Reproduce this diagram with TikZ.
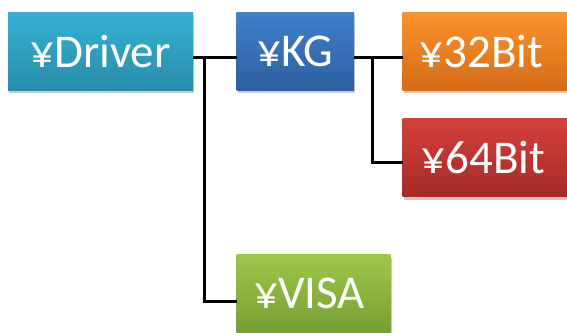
\documentclass[tikz,border=0pt]{standalone}
\usepackage{fontspec}
\setmainfont{Carlito}
\usetikzlibrary{shadows}
\definecolor{drvT}{RGB}{54,178,214}
\definecolor{drvB}{RGB}{40,140,168}
\definecolor{kgT}{RGB}{64,128,204}
\definecolor{kgB}{RGB}{46,94,158}
\definecolor{orT}{RGB}{250,146,44}
\definecolor{orB}{RGB}{214,108,24}
\definecolor{rdT}{RGB}{212,64,60}
\definecolor{rdB}{RGB}{164,42,40}
\definecolor{grT}{RGB}{158,200,74}
\definecolor{grB}{RGB}{118,158,50}
\tikzset{
  boxnode/.style={rectangle, inner sep=0pt, minimum height=78pt, text=white,
    font=\fontsize{47}{47}\selectfont,
    drop shadow={shadow xshift=1pt, shadow yshift=-3pt, opacity=0.35, fill=black!60}},
  conn/.style={line width=3pt, black}
}
\begin{document}
\begin{tikzpicture}[x=1pt,y=1pt]
\useasboundingbox (0,0) rectangle (567,332);
\clip (0,0) rectangle (567,332);
\node[boxnode, minimum width=185pt, top color=drvT, bottom color=drvB] (drv) at (100.5,280.5) {¥Driver};
\node[boxnode, minimum width=117.3pt, top color=kgT, bottom color=kgB] (kg) at (295.35,280.5) {¥KG};
\node[boxnode, minimum width=172pt, top color=orT, bottom color=orB, text width=172pt, align=left] (b32) at (488.7,280.5) {\hspace*{17pt}¥32Bit};
\node[boxnode, minimum width=172pt, top color=rdT, bottom color=rdB, text width=172pt, align=left] (b64) at (488.7,174) {\hspace*{19pt}¥64Bit};
\node[boxnode, minimum width=154pt, top color=grT, bottom color=grB] (visa) at (313.7,38.3) {\hspace*{-8pt}¥VISA};
\draw[conn] ([yshift=-6.5pt]drv.east) -- ([yshift=-6.5pt]kg.west);
\draw[conn] ([yshift=-6.5pt]drv.east) ++(11pt,0) |- ([yshift=-7.3pt]visa.west);
\draw[conn] ([yshift=-6.5pt]kg.east) -- ([yshift=-6.5pt]b32.west);
\draw[conn] ([yshift=-6.5pt]kg.east) ++(18pt,0) |- ([yshift=-4.7pt]b64.west);
\end{tikzpicture}
\end{document}
